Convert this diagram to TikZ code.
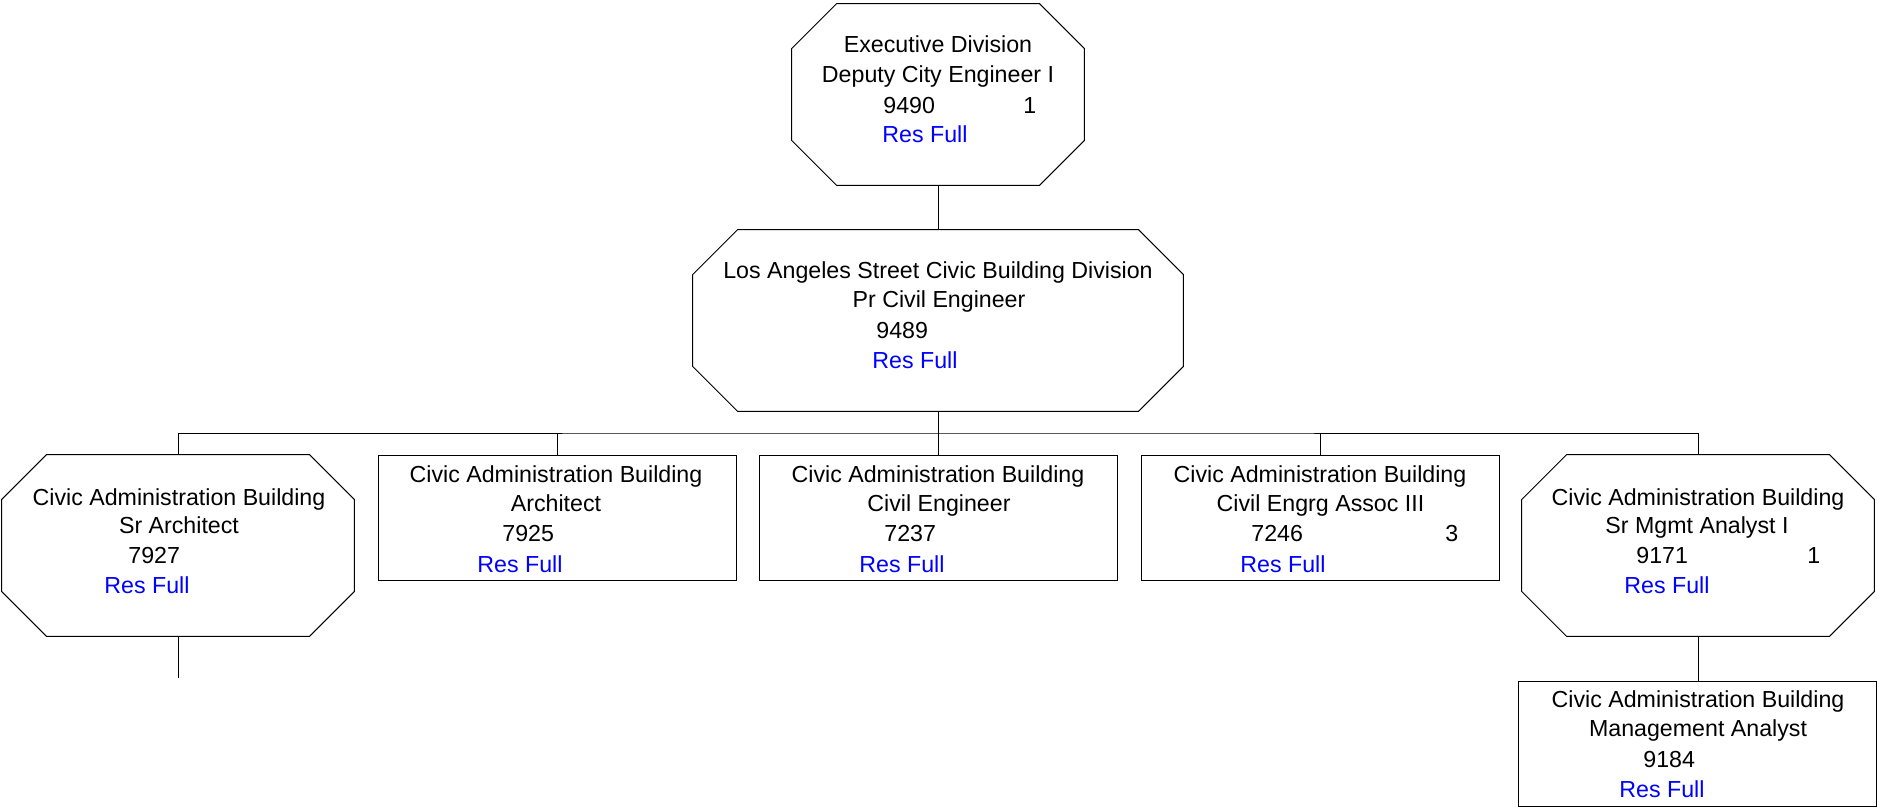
\documentclass[tikz,border=0pt]{standalone}
\usepackage{fontspec}
\setmainfont{Liberation Sans}
\usetikzlibrary{calc}
\definecolor{resblue}{RGB}{0,0,255}
\newcommand\octagonoutline[2]{%
  \draw[boxline] ($(#1.north west)+(#2,0)$) -- ($(#1.north east)+(-#2,0)$)
    -- ($(#1.north east)+(0,#2)$) -- ($(#1.south east)+(0,-#2)$)
    -- ($(#1.south east)+(-#2,0)$) -- ($(#1.south west)+(#2,0)$)
    -- ($(#1.south west)+(0,-#2)$) -- ($(#1.north west)+(0,#2)$) -- cycle;}
\tikzset{
  boxline/.style={draw=black, line width=0.5pt},
  octbox/.style={rectangle, draw=none, inner sep=0, minimum width=#1},
  rectbox/.style={rectangle, boxline, inner sep=0, minimum width=179pt, minimum height=62.5pt},
  lbl/.style={inner sep=0, font=\fontsize{11.6}{14}\selectfont, anchor=base},
  num/.style={lbl, anchor=base west},
  res/.style={num, text=resblue},
  conn/.style={draw=black, line width=0.5pt}
}
\begin{document}
\begin{tikzpicture}[x=0.5pt,y=-0.5pt]
\useasboundingbox (0,0) rectangle (1877,808);
% boxes
\node[octbox=146pt, minimum height=90.5pt] (exec) at (938,94.5) {};
\octagonoutline{exec}{45}
\node[octbox=245pt, minimum height=90.5pt] (lasd) at (938,320.5) {};
\octagonoutline{lasd}{45}
\node[octbox=176pt, minimum height=90.5pt] (c1) at (178,545.5) {};
\octagonoutline{c1}{45}
\node[rectbox] (c2) at (557,517.5) {};
\node[rectbox] (c3) at (938.5,517.5) {};
\node[rectbox] (c4) at (1320,517.5) {};
\node[octbox=176pt, minimum height=90.5pt] (c5) at (1698,545.5) {};
\octagonoutline{c5}{45}
\node[rectbox] (d1) at (1697.5,743.5) {};
% texts: executive
\node[lbl] (e1) at (938,53) {Executive Division};
\node[lbl] (e2) at (938,83) {Deputy City Engineer I};
\node[num] (e3) at (883,113) {9490};
\node[num] (e4) at (1023,113) {1};
\node[res] (e5) at (882,142) {Res Full};
% los angeles
\node[lbl] (l1) at (938,278) {Los Angeles Street Civic Building Division};
\node[lbl] (l2) at (939,307) {Pr Civil Engineer};
\node[num] (l3) at (876,338) {9489};
\node[res] (l4) at (872,368) {Res Full};
% c1
\node[lbl] (a1) at (179,505) {Civic Administration Building};
\node[lbl] (a2) at (179,533) {Sr Architect};
\node[num] (a3) at (128,563) {7927};
\node[res] (a4) at (104,593) {Res Full};
% c2
\node[lbl] (b1) at (556,482) {Civic Administration Building};
\node[lbl] (b2) at (556,511) {Architect};
\node[num] (b3) at (502,541) {7925};
\node[res] (b4) at (477,572) {Res Full};
% c3
\node[lbl] (f1) at (938,482) {Civic Administration Building};
\node[lbl] (f2) at (939,511) {Civil Engineer};
\node[num] (f3) at (884,541) {7237};
\node[res] (f4) at (859,572) {Res Full};
% c4
\node[lbl] (g1) at (1320,482) {Civic Administration Building};
\node[lbl] (g2) at (1320.5,511) {Civil Engrg Assoc III};
\node[num] (g3) at (1251,541) {7246};
\node[num] (g4) at (1445,541) {3};
\node[res] (g5) at (1240,572) {Res Full};
% c5
\node[lbl] (h1) at (1698,505) {Civic Administration Building};
\node[lbl] (h2) at (1697,533) {Sr Mgmt Analyst I};
\node[num] (h3) at (1636,563) {9171};
\node[num] (h4) at (1807,563) {1};
\node[res] (h5) at (1624,593) {Res Full};
% d
\node[lbl] (k1) at (1698,707) {Civic Administration Building};
\node[lbl] (k2) at (1698,736) {Management Analyst};
\node[num] (k3) at (1643,767) {9184};
\node[res] (k4) at (1619,797) {Res Full};
% connectors
\coordinate (bus) at (938,433);
\coordinate (c1tail) at (178,678);
\draw[conn] (exec.south) -- (lasd.north);
\draw[conn] (lasd.south) -- (bus);
\draw[conn] (c1.north) |- (bus) -| (c5.north);
\draw[conn] (c2.north) -- (c2.north |- bus);
\draw[conn] (c3.north) -- (c3.north |- bus);
\draw[conn] (c4.north) -- (c4.north |- bus);
\draw[conn] (c1.south) -- (c1tail);
\draw[conn] (c5.south) -- (c5.south |- d1.north);
\end{tikzpicture}
\end{document}
